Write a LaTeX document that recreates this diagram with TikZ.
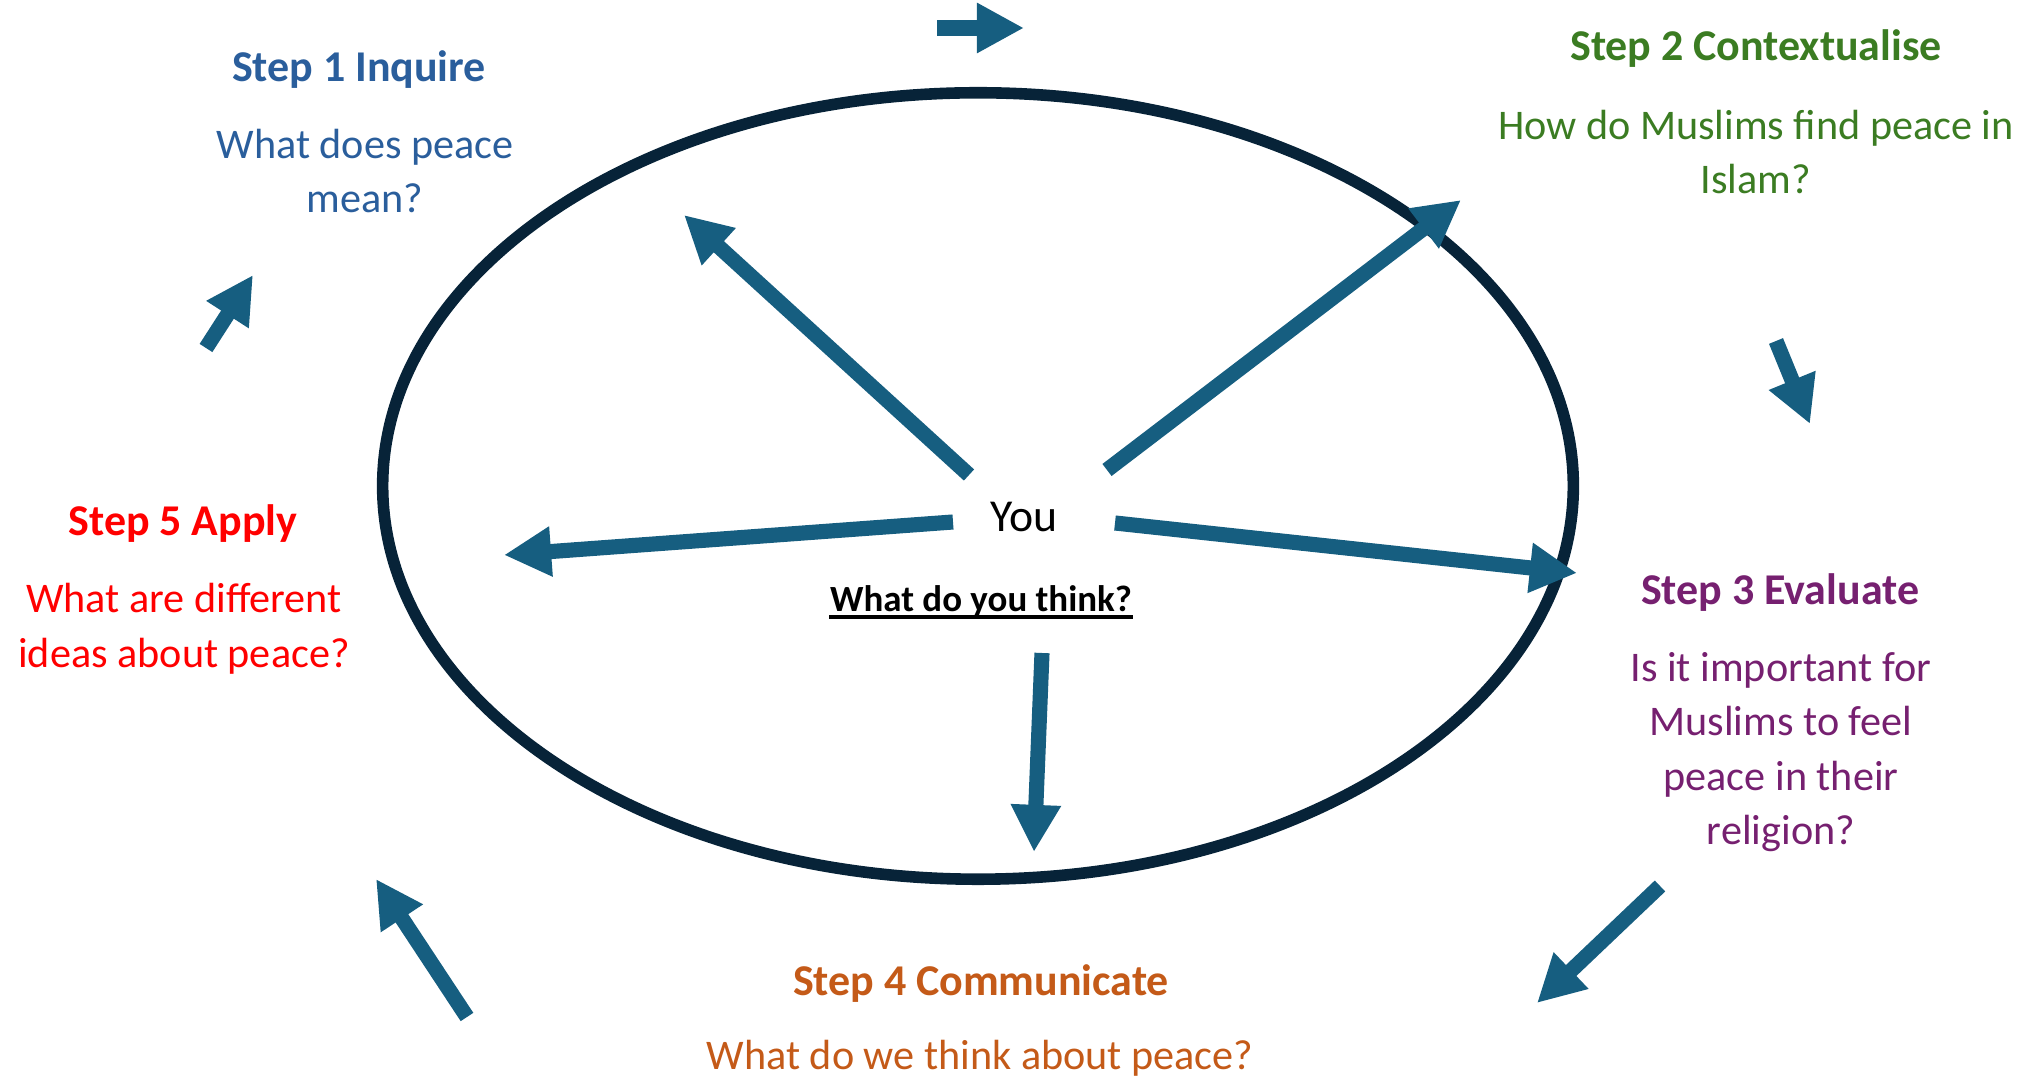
\documentclass[tikz,border=0pt]{standalone}
\usepackage{fontspec}
\setmainfont{Carlito}
\usetikzlibrary{arrows.meta}
\definecolor{arrowblue}{HTML}{165E80}
\definecolor{ringnavy}{HTML}{072338}
\definecolor{inqblue}{HTML}{2A5E9C}
\definecolor{ctxgreen}{HTML}{3B7C22}
\definecolor{evalpurple}{HTML}{762070}
\definecolor{commorange}{HTML}{C45A18}
\definecolor{applyred}{HTML}{FF0000}

\begin{document}
\begin{tikzpicture}[x=0.01cm, y=-0.01cm,
    flow/.style={draw=arrowblue, line width=4.3pt, -{Triangle[length=13.4pt,width=13.4pt]}},
    steptitle/.style={font=\fontsize{12.5}{15}\selectfont\bfseries},
    stepq/.style={font=\fontsize{12}{15.5}\selectfont, align=center}]
    \useasboundingbox (0,0) rectangle (2020,1080);

    \draw[ringnavy, line width=3.3pt] (978,486) ellipse [x radius=5.95cm, y radius=3.93cm];

    \node[font=\fontsize{13}{15}\selectfont]          (you)   at (1024,517) {You};
    \node[font=\fontsize{10.5}{12}\selectfont\bfseries, inner sep=0pt] (think) at (981,601) {What do you think?};
    \draw[line width=1.1pt] ([yshift=-1.6pt]think.base west) -- ([yshift=-1.6pt]think.base east);

    \node[steptitle, text=inqblue]    (inquire)  at (359,70)   {Step 1 Inquire};
    \node[stepq, text=inqblue]        (inquireq) at (365,171)  {What does peace\\mean?};
    \node[steptitle, text=ctxgreen]   (context)  at (1756,49)  {Step 2 Contextualise};
    \node[stepq, text=ctxgreen]       (contextq) at (1756,152) {How do Muslims find peace in\\Islam?};
    \node[steptitle, text=evalpurple] (evaluate) at (1780,593) {Step 3 Evaluate};
    \node[stepq, text=evalpurple]     (evaluateq) at (1781,752) {Is it important for\\Muslims to feel\\peace in their\\religion?};
    \node[steptitle, text=commorange] (communicate) at (981,984) {Step 4 Communicate};
    \node[stepq, text=commorange]     (communicateq) at (980,1058) {What do we think about peace?};
    \node[steptitle, text=applyred]   (apply)    at (183,524)  {Step 5 Apply};
    \node[stepq, text=applyred]       (applyq)   at (184,629)  {What are different\\ideas about peace?};

    \coordinate (youinq)  at (969,475);  \coordinate (inqtip)  at (684,215);
    \coordinate (youctx)  at (1107,470); \coordinate (ctxtip)  at (1461,200);
    \coordinate (youapp)  at (953,522);  \coordinate (apptip)  at (504,555);
    \coordinate (youeval) at (1115,523); \coordinate (evaltip) at (1577,573);
    \coordinate (youcomm) at (1042,653); \coordinate (commtip) at (1034,852);

    \coordinate (cyc1a) at (937,28);   \coordinate (cyc1b) at (1024,28);
    \coordinate (cyc2a) at (1776,341); \coordinate (cyc2b) at (1810,424);
    \coordinate (cyc3a) at (1660,886); \coordinate (cyc3b) at (1537,1003);
    \coordinate (cyc4a) at (467,1017); \coordinate (cyc4b) at (376,879);
    \coordinate (cyc5a) at (206,348);  \coordinate (cyc5b) at (253,275);

    \draw[flow] (youinq)  -- (inqtip);
    \draw[flow] (youctx)  -- (ctxtip);
    \draw[flow] (youapp)  -- (apptip);
    \draw[flow] (youeval) -- (evaltip);
    \draw[flow] (youcomm) -- (commtip);

    \draw[flow] (cyc1a) -- (cyc1b);
    \draw[flow] (cyc2a) -- (cyc2b);
    \draw[flow] (cyc3a) -- (cyc3b);
    \draw[flow] (cyc4a) -- (cyc4b);
    \draw[flow] (cyc5a) -- (cyc5b);
\end{tikzpicture}
\end{document}
